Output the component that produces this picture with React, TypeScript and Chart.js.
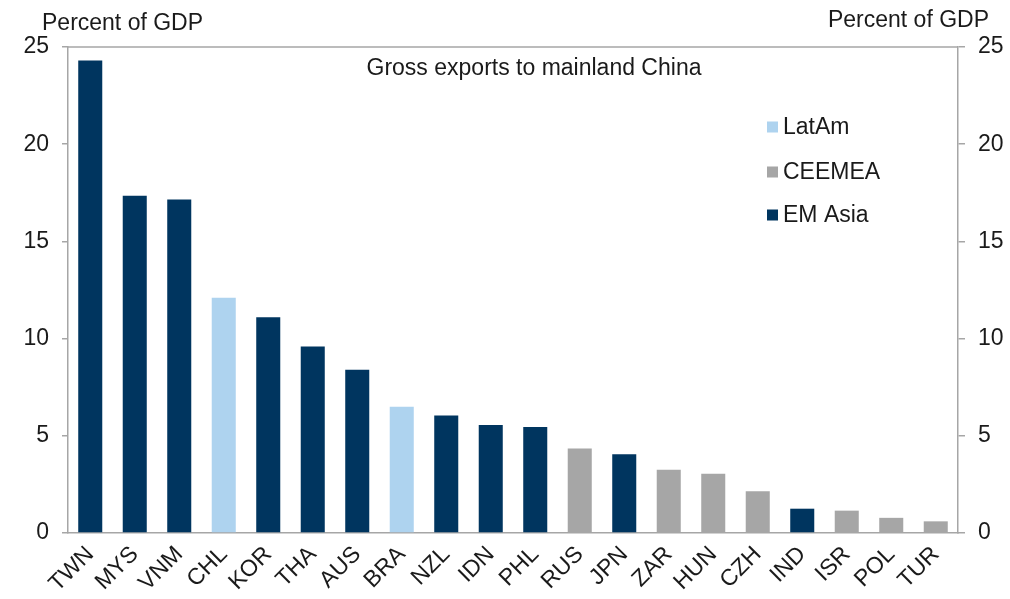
import React, { useEffect, useRef } from "react";
import { Chart, registerables } from "chart.js";

Chart.register(...registerables);

const categories = ["TWN", "MYS", "VNM", "CHL", "KOR", "THA", "AUS", "BRA", "NZL", "IDN", "PHL", "RUS", "JPN", "ZAR", "HUN", "CZH", "IND", "ISR", "POL", "TUR"];
const values = [24.3, 17.35, 17.15, 12.1, 11.1, 9.6, 8.4, 6.5, 6.05, 5.55, 5.45, 4.35, 4.05, 3.25, 3.05, 2.15, 1.25, 1.15, 0.78, 0.6];
const regions = ["EM Asia", "EM Asia", "EM Asia", "LatAm", "EM Asia", "EM Asia", "EM Asia", "LatAm", "EM Asia", "EM Asia", "EM Asia", "CEEMEA", "EM Asia", "CEEMEA", "CEEMEA", "CEEMEA", "EM Asia", "CEEMEA", "CEEMEA", "CEEMEA"];
const legendItems = ["LatAm", "CEEMEA", "EM Asia"];
const regionColors: Record<string, string> = {
  "LatAm": "#aed3ef",
  "CEEMEA": "#a6a6a6",
  "EM Asia": "#00355f",
};
const yTicks = [0, 5, 10, 15, 20, 25];
const chartTitle = "Gross exports to mainland China";
const axisTitle = "Percent of GDP";

const FONT = "'Liberation Sans', Arial, sans-serif";
const TEXT = "#1a1a1a";
const AXIS = "#a6a6a6";
const FS = 23;

const overlayPlugin = {
  id: "overlay",
  afterDraw(chart: any) {
    const ctx = chart.ctx;
    const a = chart.chartArea;
    ctx.save();
    // top frame line
    ctx.strokeStyle = AXIS;
    ctx.lineWidth = 1.5;
    ctx.beginPath();
    ctx.moveTo(a.left, a.top);
    ctx.lineTo(a.right, a.top);
    ctx.stroke();

    ctx.fillStyle = TEXT;
    ctx.font = `${FS}px ${FONT}`;
    ctx.textBaseline = "alphabetic";
    ctx.textAlign = "left";
    ctx.fillText(axisTitle, 42, 30);
    ctx.textAlign = "right";
    ctx.fillText(axisTitle, 989, 27);

    ctx.textAlign = "center";
    ctx.fillText(chartTitle, 534, 75);

    // legend
    ctx.textAlign = "left";
    ctx.textBaseline = "middle";
    const rowsY = [127, 172, 215];
    legendItems.forEach((name, i) => {
      ctx.fillStyle = regionColors[name];
      ctx.fillRect(767, rowsY[i] - 5.5, 11, 11);
      ctx.fillStyle = TEXT;
      ctx.fillText(name, 783, rowsY[i] + 1);
    });
    ctx.restore();
  },
};

export default function App() {
  const ref = useRef<HTMLCanvasElement | null>(null);

  useEffect(() => {
    document.body.style.margin = "0";
    if (!ref.current) return;
    const chart = new Chart(ref.current, {
      type: "bar",
      data: {
        labels: categories,
        datasets: [
          {
            data: values,
            backgroundColor: regions.map((r) => regionColors[r]),
            barPercentage: 0.54,
            categoryPercentage: 1.0,
            yAxisID: "y",
          },
        ],
      },
      options: {
        animation: false,
        responsive: true,
        maintainAspectRatio: false,
        layout: { padding: { top: 47, left: 0, right: 0, bottom: 0 } },
        plugins: {
          legend: { display: false },
          title: { display: false },
          tooltip: { enabled: false },
        },
        scales: {
          x: {
            grid: { display: false },
            border: { display: true, color: AXIS, width: 1.5 },
            ticks: {
              autoSkip: false,
              maxRotation: 45,
              minRotation: 45,
              color: TEXT,
              font: { family: FONT, size: FS },
              padding: 0,
            },
            afterFit: (s: any) => {
              s.height = 66;
            },
          },
          y: {
            position: "left",
            min: 0,
            max: 25,
            afterBuildTicks: (s: any) => {
              s.ticks = yTicks.map((v) => ({ value: v }));
            },
            grid: { drawOnChartArea: false, drawTicks: true, tickLength: 6, color: AXIS, lineWidth: 1.5 },
            border: { display: true, color: AXIS, width: 1.5 },
            ticks: { color: TEXT, font: { family: FONT, size: FS }, padding: 13 },
            afterFit: (s: any) => {
              s.width = 68;
            },
          },
          y2: {
            position: "right",
            min: 0,
            max: 25,
            afterBuildTicks: (s: any) => {
              s.ticks = yTicks.map((v) => ({ value: v }));
            },
            grid: { drawOnChartArea: false, drawTicks: true, tickLength: 7, color: AXIS, lineWidth: 1.5 },
            border: { display: true, color: AXIS, width: 1.5 },
            ticks: { color: TEXT, font: { family: FONT, size: FS }, padding: 13 },
            afterFit: (s: any) => {
              s.width = 52;
            },
          },
        },
      },
      plugins: [overlayPlugin],
    });
    return () => chart.destroy();
  }, []);

  return (
    <div style={{ position: "absolute", left: 0, top: 0, width: 1010, height: 599 }}>
      <canvas ref={ref} />
    </div>
  );
}
